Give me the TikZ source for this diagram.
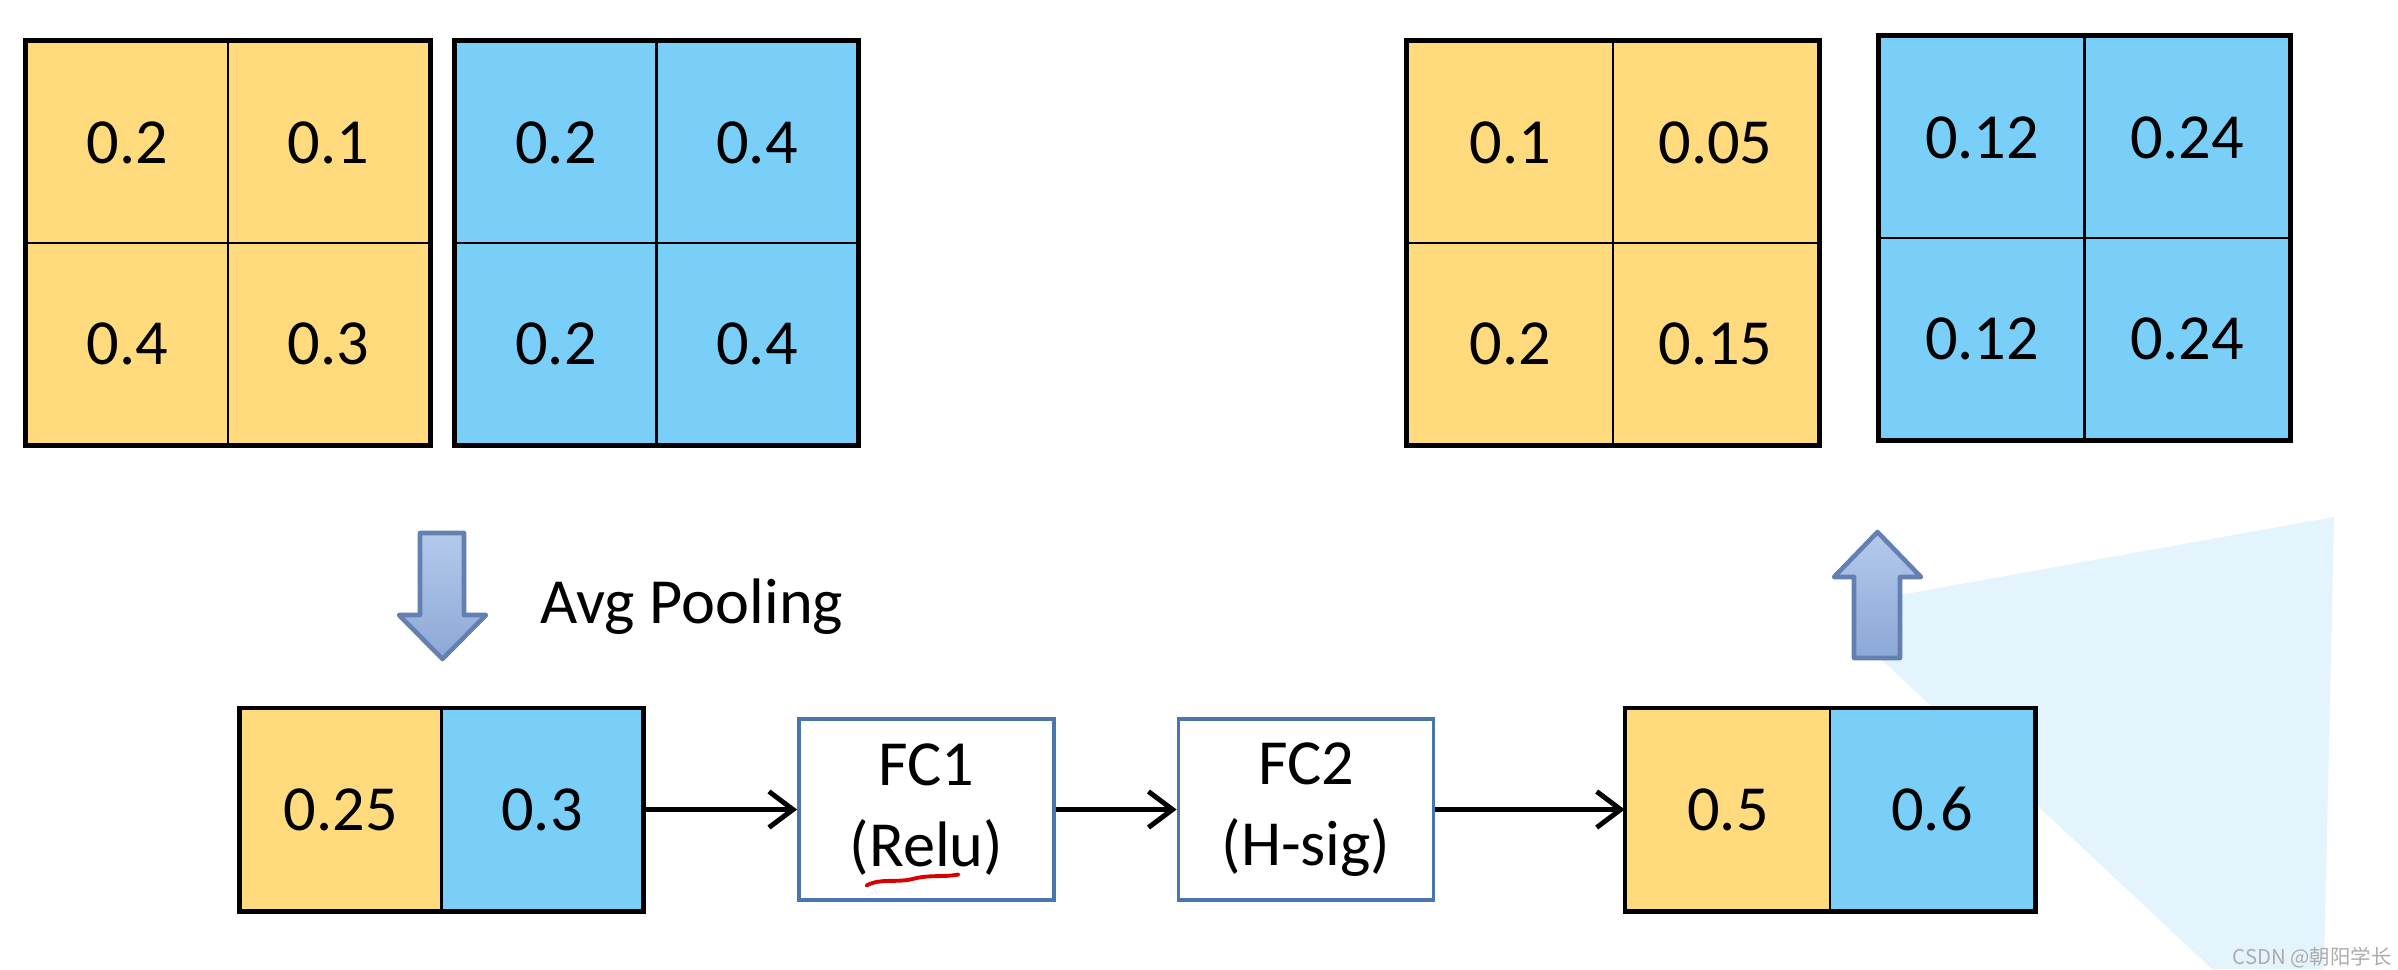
\documentclass[tikz,border=0pt]{standalone}
\usepackage{fontspec}
\setmainfont{Carlito}
\newfontfamily\cjkfont{Noto Sans CJK SC}
\usepackage{tikz}
\usetikzlibrary{arrows.meta}
\usetikzlibrary{positioning}

\definecolor{cellyellow}{RGB}{255,219,126}
\definecolor{cellblue}{RGB}{122,207,248}
\definecolor{fcedge}{RGB}{74,118,176}
\definecolor{arrowedge}{RGB}{100,128,178}
\definecolor{arrowlight}{RGB}{180,202,236}
\definecolor{arrowdark}{RGB}{140,168,214}
\definecolor{glare}{RGB}{227,244,252}
\newcommand\cellfont{\fontsize{18.3}{23}\selectfont}

\begin{document}
\begin{tikzpicture}[
        cell/.style = {draw, line width=0.7pt, inner sep=0pt,
            minimum width=2.01cm, minimum height=2.01cm, font=\cellfont},
        ycell/.style = {cell, fill=cellyellow},
        bcell/.style = {cell, fill=cellblue},
        wide/.style = {minimum width=2.05cm},
        frame/.style = {line width=1.3pt},
        fcbox/.style = {draw=fcedge, line width=1.1pt, fill=white,
            minimum width=2.55cm, minimum height=1.81cm, align=center, font=\cellfont},
        flow/.style = {-{Straight Barb[length=0.24cm,width=0.36cm]}, line width=1.4pt},
        blockarrow/.style = {draw=arrowedge, line width=1.3pt, line join=round,
            top color=arrowlight, bottom color=arrowdark},
        wmark/.style = {text=gray!65, font=\cjkfont\fontsize{5.8}{6}\selectfont}
    ]
            \fill[white] (0,0) rectangle (23.98,-9.69);
            \useasboundingbox (0,0) rectangle (23.98,-9.69);

            % light blue glare behind the output pair
            \fill[glare] (19.00,-5.95) -- (23.34,-5.17) -- (23.24,-9.69)
                -- (22.12,-9.69) -- (18.82,-6.60) -- cycle;

            % input feature maps
            \node[ycell] (in_y1) at (1.275,-1.425) {0.2};
            \node[ycell] (in_y2) at (3.285,-1.425) {0.1};
            \node[ycell] (in_y3) at (1.275,-3.435) {0.4};
            \node[ycell] (in_y4) at (3.285,-3.435) {0.3};
            \draw[frame] (in_y1.north west) rectangle (in_y4.south east);

            \node[bcell] (in_b1) at (5.56,-1.425) {0.2};
            \node[bcell] (in_b2) at (7.57,-1.425) {0.4};
            \node[bcell] (in_b3) at (5.56,-3.435) {0.2};
            \node[bcell] (in_b4) at (7.57,-3.435) {0.4};
            \draw[frame] (in_b1.north west) rectangle (in_b4.south east);

            % output feature maps
            \node[ycell, wide] (out_y1) at (15.105,-1.425) {0.1};
            \node[ycell, wide] (out_y2) at (17.155,-1.425) {0.05};
            \node[ycell, wide] (out_y3) at (15.105,-3.435) {0.2};
            \node[ycell, wide] (out_y4) at (17.155,-3.435) {0.15};
            \draw[frame] (out_y1.north west) rectangle (out_y4.south east);

            \node[bcell, wide] (out_b1) at (19.82,-1.375) {0.12};
            \node[bcell, wide] (out_b2) at (21.87,-1.375) {0.24};
            \node[bcell, wide] (out_b3) at (19.82,-3.385) {0.12};
            \node[bcell, wide] (out_b4) at (21.87,-3.385) {0.24};
            \draw[frame] (out_b1.north west) rectangle (out_b4.south east);

            % pooling arrow and label
            \draw[blockarrow] (4.20,-5.33) -- (4.64,-5.33) -- (4.64,-6.15)
                -- (4.86,-6.15) -- (4.425,-6.59) -- (3.99,-6.15)
                -- (4.20,-6.15) -- cycle;
            \node[anchor=west, inner sep=0pt, font=\cellfont] (pool) at (5.40,-6.07) {Avg Pooling};

            % squeeze vector
            \node[ycell] (sq_y) at (3.41,-8.095) {0.25};
            \node[bcell] (sq_b) at (5.42,-8.095) {0.3};
            \draw[frame] (sq_y.north west) rectangle (sq_b.south east);

            \node[fcbox] (fc1) at (9.265,-8.095) {FC1\\(Relu)};
            \node[fcbox] (fc2) at (13.06,-8.095) {FC2\\(H-sig)};

            % excitation vector
            \node[ycell, minimum width=2.04cm] (ex_y) at (17.28,-8.095) {0.5};
            \node[bcell, minimum width=2.04cm] (ex_b) at (19.32,-8.095) {0.6};
            \draw[frame] (ex_y.north west) rectangle (ex_b.south east);

            \draw[flow] (sq_b.east) -- (fc1.west);
            \draw[flow] (fc1.east) -- (fc2.west);
            \draw[flow] (fc2.east) -- (ex_y.west);

            % red pen mark under Relu
            \draw[red!85!black, line width=1.1pt, line cap=round]
                ([shift={(-0.60,-0.76)}]fc1.center)
                .. controls ([shift={(-0.45,-0.68)}]fc1.center) and ([shift={(-0.30,-0.74)}]fc1.center)
                .. ([shift={(-0.12,-0.69)}]fc1.center)
                .. controls ([shift={(0.05,-0.65)}]fc1.center) and ([shift={(0.15,-0.68)}]fc1.center)
                .. ([shift={(0.32,-0.65)}]fc1.center);

            % scale-back arrow
            \draw[blockarrow] (18.54,-6.58) -- (19.00,-6.58) -- (19.00,-5.77)
                -- (19.21,-5.77) -- (18.775,-5.32) -- (18.34,-5.77)
                -- (18.54,-5.77) -- cycle;

            \node[wmark] (csdn) at (23.12,-9.58) {CSDN @朝阳学长};
        \end{tikzpicture}
\end{document}
